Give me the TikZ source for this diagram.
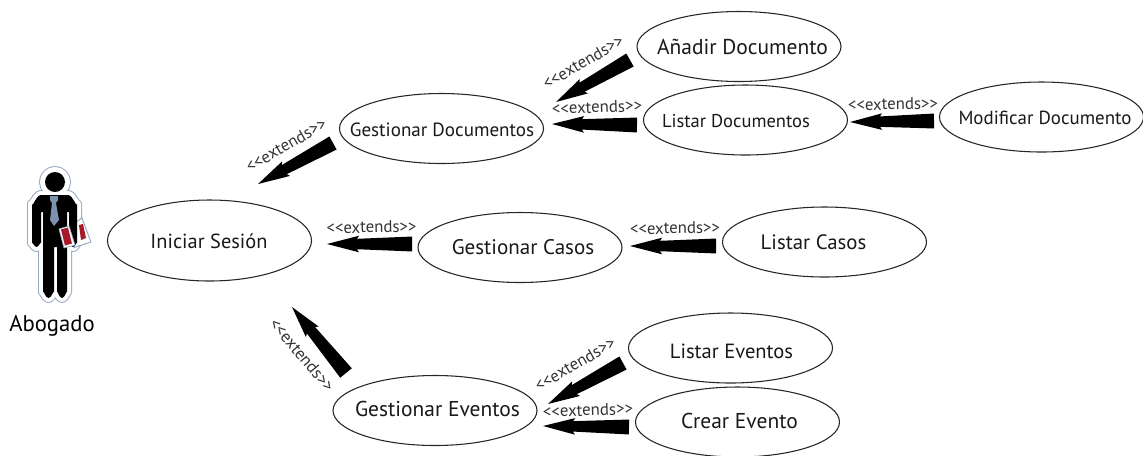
\documentclass[tikz,border=0pt]{standalone}
\usepackage{fontspec}
\setmainfont{PT Sans}
\usetikzlibrary{shapes.geometric,calc}
\definecolor{halo}{RGB}{150,168,196}
\definecolor{tiecol}{RGB}{125,145,172}
\definecolor{redcol}{RGB}{165,25,40}
\tikzset{
  usecase/.style={ellipse,draw=black!85,line width=0.8pt,fill=white,inner sep=0pt,minimum width=153pt,minimum height=52.5pt,text=black!90},
  extlabel/.style={inner sep=0pt,font=\fontsize{12.6}{14}\selectfont,text=black!80},
}
% text of a use case, displaced dx,dy pixels from the centre of its ellipse
\newcommand{\ucs}[3]{\raisebox{\dimexpr-0.35em-#2pt*3/4\relax}[0pt][0pt]{\makebox[0pt]{\hspace*{\dimexpr#1pt*3/2\relax}#3}}}
\newcommand{\extxt}{<\kern0pt<extends>\kern0pt>}
\newcommand{\fatarrow}[2]{%
  \coordinate (nk) at ($(#2)!22.5pt!(#1)$);
  \coordinate (bb) at ($(#2)!24pt!(#1)$);
  \fill[black] ($(#1)!5.6pt!90:(#2)$) -- ($(nk)!3.9pt!90:(#2)$) -- ($(bb)!6.2pt!90:(#2)$) -- (#2)
     -- ($(bb)!6.2pt!-90:(#2)$) -- ($(nk)!3.9pt!-90:(#2)$) -- ($(#1)!5.6pt!-90:(#2)$) -- cycle;
}
\newcommand{\figpath}{(32,204) to[out=-90,in=180] (41,195) -- (68,195) to[out=0,in=-90] (77,204) -- (77,243) to[out=90,in=0] (73,247) to[out=180,in=90] (69,243) -- (69,212) -- (67,212) -- (67,292) to[out=90,in=0] (62,298) to[out=180,in=90] (57,292) -- (57,247) -- (54,247) -- (54,292) to[out=90,in=0] (48.5,298) to[out=180,in=90] (43,292) -- (43,212) -- (41,212) -- (41,243) to[out=90,in=0] (36.5,247) to[out=180,in=90] (32,243) -- cycle}
\begin{document}
\begin{tikzpicture}[x=0.75pt,y=-0.75pt]
\useasboundingbox (0,0) rectangle (1143,455);
% actor
\draw[halo,line width=7.5pt,line join=round] (55,182) circle (11);
\draw[halo,line width=7.5pt,line join=round] \figpath;
\draw[white,line width=6pt,line join=round] (55,182) circle (11);
\draw[white,line width=6pt,line join=round] \figpath;
\fill[white,draw=halo,line width=0.7pt] (82,218) -- (91,242) -- (74,247.5) -- (72,225) -- cycle;
\fill[redcol] (79,225) -- (83,224) -- (86,238) -- (81,240) -- cycle;
\fill[black] (55,182) circle (10);
\fill[black] \figpath;
\fill[tiecol] (50,196) -- (58,196) -- (58,200) -- (56,203) -- (59,220) -- (54,226) -- (50,220) -- (52,203) -- (50,200) -- cycle;
\fill[white,draw=halo,line width=0.5pt] (59,229) -- (69,226) -- (75,245) -- (64,248) -- cycle;
\fill[redcol] (61,229.5) -- (68,227.5) -- (72,243.5) -- (65,245.5) -- cycle;
\node[inner sep=0pt,font=\fontsize{17}{20}\selectfont] (abogado) at (52,326) {Abogado};
% use cases
\node[usecase,minimum height=60.75pt,font=\fontsize{15.3}{18}\selectfont] (iniciar) at (209.5,240.5) {\ucs{-0.5}{0.5}{Iniciar Sesión}};
\node[usecase,font=\fontsize{14.3}{18}\selectfont] (gdoc) at (441.5,128.5) {\ucs{0.5}{1.5}{Gestionar Documentos}};
\node[usecase,font=\fontsize{16.1}{18}\selectfont] (anadir) at (739,46.5) {\ucs{3.5}{0.5}{Añadir Documento}};
\node[usecase,font=\fontsize{13.9}{18}\selectfont] (ldoc) at (745.5,120) {\ucs{-9.5}{1}{Listar Documentos}};
\node[usecase,font=\fontsize{14.2}{18}\selectfont] (mdoc) at (1041.5,117) {\ucs{3.5}{1}{Modificar Documento}};
\node[usecase,font=\fontsize{15.8}{18}\selectfont] (gcasos) at (520,247.5) {\ucs{3}{-0.5}{Gestionar Casos}};
\node[usecase,font=\fontsize{15.6}{18}\selectfont] (lcasos) at (824.5,242) {\ucs{-11}{0}{Listar Casos}};
\node[usecase,font=\fontsize{16.1}{18}\selectfont] (gev) at (435,410.5) {\ucs{2.5}{-1.5}{Gestionar Eventos}};
\node[usecase,font=\fontsize{15.4}{18}\selectfont] (lev) at (730.5,348) {\ucs{1}{3}{Listar Eventos}};
\node[usecase,font=\fontsize{16.1}{18}\selectfont] (cev) at (737.5,422) {\ucs{2}{-1}{Crear Evento}};
% arrow ends
\coordinate (a1) at (333,143); \coordinate (b1) at (258,184);
\coordinate (a2) at (630,60);  \coordinate (b2) at (556,102);
\coordinate (a3) at (637,125); \coordinate (b3) at (552,124);
\coordinate (a4) at (934,121); \coordinate (b4) at (850,122);
\coordinate (a5) at (412,244); \coordinate (b5) at (327,244);
\coordinate (a6) at (716,246); \coordinate (b6) at (630,246);
\coordinate (a7) at (346,373); \coordinate (b7) at (292,307);
\coordinate (a8) at (623,363); \coordinate (b8) at (548,404);
\coordinate (a9) at (629,427); \coordinate (b9) at (543,426);
\fatarrow{a1}{b1}\fatarrow{a2}{b2}\fatarrow{a3}{b3}\fatarrow{a4}{b4}\fatarrow{a5}{b5}
\fatarrow{a6}{b6}\fatarrow{a7}{b7}\fatarrow{a8}{b8}\fatarrow{a9}{b9}
% labels
\node[extlabel,rotate=30] (l1) at (286,145) {\extxt};
\node[extlabel,rotate=30] (l2) at (583,62) {\extxt};
\node[extlabel,rotate=2] (l3) at (597,107) {\extxt};
\node[extlabel,rotate=1] (l4) at (893,104) {\extxt};
\node[extlabel,rotate=1] (l5) at (371.5,227) {\extxt};
\node[extlabel,rotate=1] (l6) at (675,228) {\extxt};
\node[extlabel,rotate=-50] (l7) at (302,355) {\extxt};
\node[extlabel,rotate=30] (l8) at (575,364) {\extxt};
\node[extlabel,rotate=2] (l9) at (588,410) {\extxt};
\end{tikzpicture}
\end{document}
